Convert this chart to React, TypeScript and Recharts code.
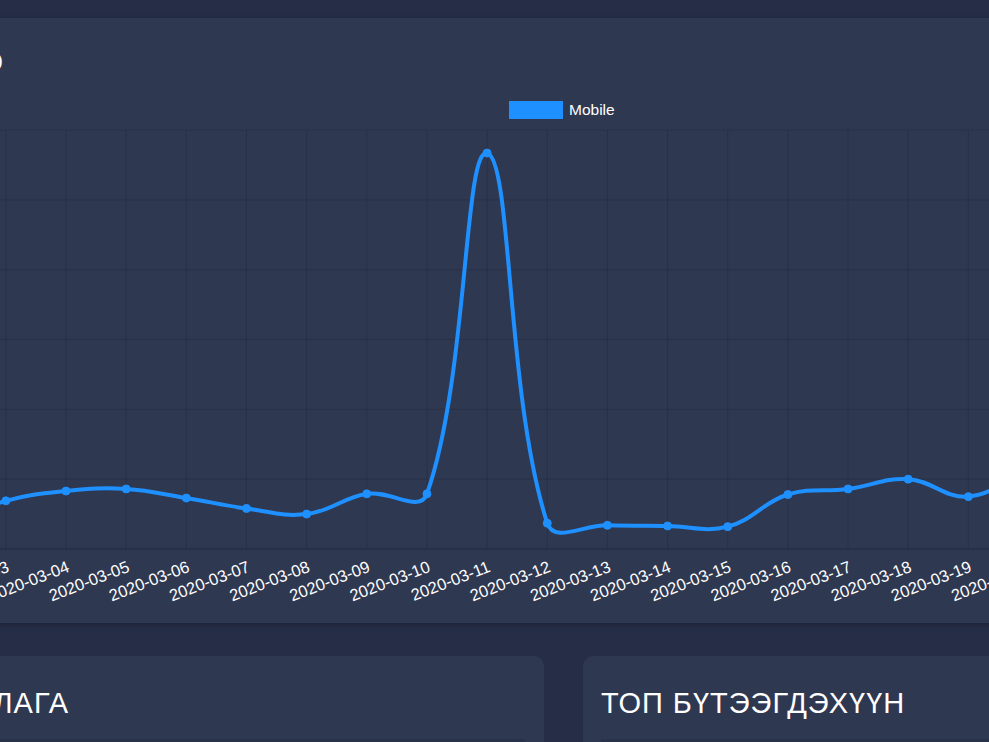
import React from 'react'
import { LineChart, Line, XAxis, YAxis, CartesianGrid } from 'recharts'

const dates = [
  '2020-03-02', '2020-03-03', '2020-03-04', '2020-03-05', '2020-03-06',
  '2020-03-07', '2020-03-08', '2020-03-09', '2020-03-10', '2020-03-11',
  '2020-03-12', '2020-03-13', '2020-03-14', '2020-03-15', '2020-03-16',
  '2020-03-17', '2020-03-18', '2020-03-19', '2020-03-20',
]
const mobile = [35, 69, 83, 86, 73, 58, 50, 79, 79, 567, 37, 34, 33, 32, 78, 86, 100, 75, 115]
const yTicks = [0, 100, 200, 300, 400, 500, 600]

const data = dates.map((date, i) => ({ date, mobile: mobile[i] }))

const BG = '#262d47'
const CARD = '#2f3851'
const BLUE = '#1e90ff'
const GRID = 'rgba(0,0,0,0.13)'
const FONT = '"Liberation Sans", Arial, Helvetica, sans-serif'

// chart.js style bezier, tension 0.4
function chartJsCurve(context: any) {
  let pts: number[][] = []
  return {
    areaStart() {},
    areaEnd() {},
    lineStart() { pts = [] },
    point(x: number, y: number) { pts.push([+x, +y]) },
    lineEnd() {
      const n = pts.length
      if (!n) return
      const t = 0.4
      const cps = pts.map((p, i) => {
        const prev = pts[i - 1] || p
        const next = pts[i + 1] || p
        const d01 = Math.hypot(p[0] - prev[0], p[1] - prev[1])
        const d12 = Math.hypot(next[0] - p[0], next[1] - p[1])
        const sum = d01 + d12 || 1
        const fa = (t * d01) / sum
        const fb = (t * d12) / sum
        return {
          prev: [p[0] - fa * (next[0] - prev[0]), p[1] - fa * (next[1] - prev[1])],
          next: [p[0] + fb * (next[0] - prev[0]), p[1] + fb * (next[1] - prev[1])],
        }
      })
      context.moveTo(pts[0][0], pts[0][1])
      for (let i = 1; i < n; i++) {
        const a = cps[i - 1].next
        const b = cps[i].prev
        context.bezierCurveTo(a[0], a[1], b[0], b[1], pts[i][0], pts[i][1])
      }
    },
  }
}

const DateTick = ({ x, y, payload }: any) => {
  const py = y + 3
  return (
    <text
      x={x}
      y={py}
      dy={12}
      transform={`rotate(-21 ${x} ${py})`}
      textAnchor="end"
      fill="#ffffff"
      fontSize={16.5}
      fontFamily={FONT}
    >
      {payload.value}
    </text>
  )
}

const titleStyle: React.CSSProperties = {
  position: 'absolute',
  color: '#ffffff',
  fontSize: 29,
  letterSpacing: 1,
  whiteSpace: 'nowrap',
  fontFamily: FONT,
  lineHeight: '29px',
}

export default function App() {
  return (
    <div style={{ position: 'fixed', left: 0, top: 0, width: 989, height: 742, overflow: 'hidden', background: BG, fontFamily: FONT }}>
      {/* top card */}
      <div style={{ position: 'absolute', left: -60, top: 18, width: 1120, height: 605, background: CARD, borderRadius: 10, boxShadow: '0 2px 6px rgba(0,0,0,0.25)' }} />
      <div style={{ ...titleStyle, right: 985, top: 48 }}>ЗАХИАЛГЫН ТОО</div>

      {/* legend */}
      <div style={{ position: 'absolute', left: 509, top: 101, display: 'flex', alignItems: 'center' }}>
        <div style={{ width: 54, height: 18, background: BLUE }} />
        <span style={{ marginLeft: 6, color: '#ffffff', fontSize: 15.5 }}>Mobile</span>
      </div>

      <div style={{ position: 'absolute', left: -100, top: 0 }}>
        <LineChart width={1200} height={640} data={data} margin={{ top: 130, right: 71.5, bottom: 31, left: 45.7 }}>
          <CartesianGrid stroke={GRID} strokeWidth={1} />
          <XAxis
            dataKey="date"
            interval={0}
            height={60}
            axisLine={{ stroke: GRID }}
            tickLine={false}
            tick={<DateTick />}
          />
          <YAxis hide domain={[0, 600]} ticks={yTicks} />
          <Line
            dataKey="mobile"
            type={chartJsCurve as any}
            stroke={BLUE}
            strokeWidth={4}
            dot={{ r: 4, fill: BLUE, stroke: BLUE, strokeWidth: 1 }}
            isAnimationActive={false}
          />
        </LineChart>
      </div>

      {/* bottom cards */}
      <div style={{ position: 'absolute', left: -94, top: 656, width: 638, height: 120, background: CARD, borderRadius: 10 }} />
      <div style={{ ...titleStyle, right: 920, top: 689 }}>ЗАХИАЛАГА</div>
      <div style={{ position: 'absolute', left: -80, top: 739, width: 605, height: 10, background: '#2a3249' }} />

      <div style={{ position: 'absolute', left: 583, top: 656, width: 638, height: 120, background: CARD, borderRadius: 10 }} />
      <div style={{ ...titleStyle, left: 601, top: 689 }}>ТОП БҮТЭЭГДЭХҮҮН</div>
      <div style={{ position: 'absolute', left: 601, top: 739, width: 605, height: 10, background: '#2a3249' }} />
    </div>
  )
}
